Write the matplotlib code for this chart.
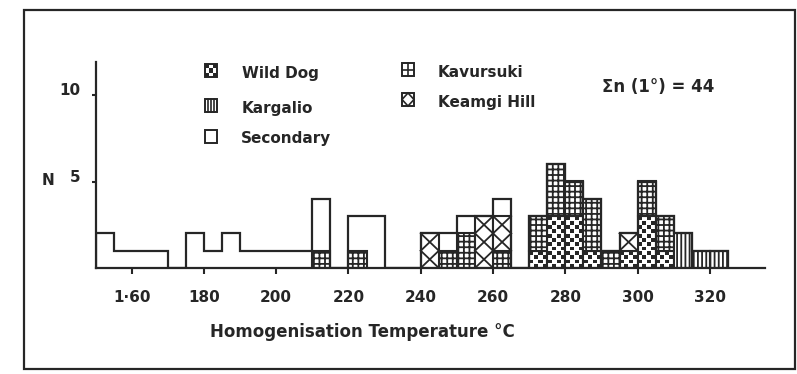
import numpy as np
import matplotlib.pyplot as plt
from matplotlib.patches import Rectangle, Polygon
from matplotlib.lines import Line2D

plt.rcParams['font.family'] = 'DejaVu Sans'
plt.rcParams['font.weight'] = 'bold'
plt.rcParams['hatch.linewidth'] = 1.3

ink = '#262626'
W, H = 797, 374

# left edges of the 5 degree classes, 150 .. 320
bin_left = list(range(150, 325, 5))
wild_dog = [0, 0, 0, 0, 0, 0, 0, 0, 0, 0, 0, 0, 0, 0, 0, 0, 0, 0, 0, 0, 0, 0, 0, 0,
            1, 3, 3, 1, 0, 1, 3, 1, 0, 0, 0]
kavursuki = [0, 0, 0, 0, 0, 0, 0, 0, 0, 0, 0, 0, 1, 0, 1, 0, 0, 0, 0, 1, 2, 0, 1, 0,
             2, 3, 2, 3, 1, 0, 2, 2, 0, 0, 0]
keamgi = [0, 0, 0, 0, 0, 0, 0, 0, 0, 0, 0, 0, 0, 0, 0, 0, 0, 0, 2, 0, 0, 3, 2, 0,
          0, 0, 0, 0, 0, 1, 0, 0, 0, 0, 0]
kargalio = [0, 0, 0, 0, 0, 0, 0, 0, 0, 0, 0, 0, 0, 0, 0, 0, 0, 0, 0, 0, 0, 0, 0, 0,
            0, 0, 0, 0, 0, 0, 0, 0, 2, 1, 1]
secondary = [2, 1, 1, 1, 0, 2, 1, 2, 1, 1, 1, 1, 3, 0, 2, 3, 0, 0, 0, 1, 1, 0, 1, 0,
             0, 0, 0, 0, 0, 0, 0, 0, 0, 0, 0]

x_ticks = [160, 180, 200, 220, 240, 260, 280, 300, 320]
x_labels = ['1·60', '180', '200', '220', '240', '260', '280', '300', '320']
width = 5


def pix(x, y):
    return x / W, 1 - y / H


fig = plt.figure(figsize=(W / 100, H / 100), dpi=100)
ax = fig.add_axes([95.5 / W, 1 - 268 / H, (765 - 95.5) / W, (268 - 62) / H])

left = np.array(bin_left, dtype=float)
bottom = np.zeros(len(left))

# wild dog: outlined cells filled with a checkerboard
wd = np.array(wild_dog, dtype=float)
m = wd > 0
ax.bar(left[m], wd[m], width=width, bottom=bottom[m], align='edge',
       facecolor='white', edgecolor=ink, lw=1.5, zorder=2)
cw, ch = width / 4, 0.25
for x0, h in zip(left[m], wd[m]):
    for i in range(4):
        for j in range(int(round(h / ch))):
            if (i + j) % 2 == 1:
                ax.add_patch(Rectangle((x0 + i * cw + 0.05 * cw, j * ch + 0.05 * ch),
                                       0.9 * cw, 0.9 * ch, color=ink, lw=0, zorder=3))
bottom = bottom + wd

# kavursuki: fine grid
v = np.array(kavursuki, dtype=float)
m = v > 0
ax.bar(left[m], v[m], width=width, bottom=bottom[m], align='edge',
       facecolor='white', edgecolor=ink, hatch='+++', lw=1.5, zorder=2)
bottom = bottom + v

# keamgi hill: a cross in every unit cell
v = np.array(keamgi, dtype=float)
m = v > 0
ax.bar(left[m], v[m], width=width, bottom=bottom[m], align='edge',
       facecolor='white', edgecolor=ink, lw=1.5, zorder=2)
for x0, b, h in zip(left[m], bottom[m], v[m]):
    for k in range(int(h)):
        y0 = b + k
        ax.plot([x0, x0 + width], [y0, y0 + 1], color=ink, lw=1.3, zorder=3)
        ax.plot([x0, x0 + width], [y0 + 1, y0], color=ink, lw=1.3, zorder=3)
bottom = bottom + v

# kargalio: vertical lines
v = np.array(kargalio, dtype=float)
m = v > 0
ax.bar(left[m], v[m], width=width, bottom=bottom[m], align='edge',
       facecolor='white', edgecolor=ink, hatch='||||', lw=1.5, zorder=2)
bottom = bottom + v

sec = np.array(secondary, dtype=float)
m = sec > 0
ax.bar(left[m], sec[m], width=width, bottom=bottom[m], align='edge',
       facecolor='white', edgecolor='none', zorder=1)
bottom = bottom + sec

edges = np.append(left, left[-1] + width)
ax.stairs(bottom, edges, color=ink, lw=1.6, zorder=4)

ax.set_xlim(150, 150 + (765 - 95.5) / 3.614)
ax.set_ylim(0, 206 / 17.3)
for s in ['top', 'right']:
    ax.spines[s].set_visible(False)
for s in ['left', 'bottom']:
    ax.spines[s].set_linewidth(1.6)
    ax.spines[s].set_color(ink)
ax.set_xticks(x_ticks, labels=x_labels)
ax.set_yticks([5, 10], labels=['5', '10'], va='baseline')
ax.tick_params(axis='x', direction='out', length=4, width=1.5, pad=12,
               labelsize=11, colors=ink)
ax.tick_params(axis='y', direction='out', length=3, width=1.5, pad=8,
               labelsize=11, colors=ink)

fig.text(*pix(42, 185), 'N', fontsize=11, color=ink, va='baseline')
fig.text(*pix(362, 337), 'Homogenisation Temperature °C', fontsize=12,
         color=ink, ha='center', va='baseline')
fig.text(*pix(602, 92), 'Σn (1°) = 44', fontsize=12, color=ink, va='baseline')


# legend, drawn by hand like the original
def box(x, y, w=12, h=13):
    fig.add_artist(Rectangle(pix(x, y + h), w / W, h / H, transform=fig.transFigure,
                             fill=False, ec=ink, lw=1.4))


def seg(x0, y0, x1, y1):
    fig.add_artist(Line2D([x0 / W, x1 / W], [1 - y0 / H, 1 - y1 / H],
                          transform=fig.transFigure, color=ink, lw=1.2))


# wild dog
box(205, 64)
for i in range(3):
    for j in range(3):
        if (i + j) % 2 == 0:
            fig.add_artist(Rectangle(pix(205 + i * 4, 64 + (j + 1) * 13 / 3), 4 / W,
                                     (13 / 3) / H, transform=fig.transFigure,
                                     color=ink, lw=0))
# kargalio
box(205, 99)
for k in range(1, 4):
    seg(205 + k * 3, 99, 205 + k * 3, 112)
# secondary
box(205, 130)
# kavursuki
box(402, 63)
seg(408, 63, 408, 76)
seg(402, 69.5, 414, 69.5)
# keamgi hill
box(402, 93)
fig.add_artist(Polygon([pix(402, 99.5), pix(408, 93), pix(414, 99.5), pix(408, 106)],
                       closed=True, fill=False, ec=ink, lw=1.2,
                       transform=fig.transFigure))

for x, y, name in [(242, 78, 'Wild Dog'), (242, 113, 'Kargalio'), (241, 143, 'Secondary'),
                   (438, 77, 'Kavursuki'), (438, 107, 'Keamgi Hill')]:
    fig.text(*pix(x, y), name, fontsize=11, color=ink, va='baseline')

# outer frame of the scanned figure
fig.add_artist(Rectangle(pix(24, 369), (795 - 24) / W, (369 - 10) / H,
                         transform=fig.transFigure, fill=False, ec=ink, lw=1.6))

fig.savefig('out.png', dpi=100)
